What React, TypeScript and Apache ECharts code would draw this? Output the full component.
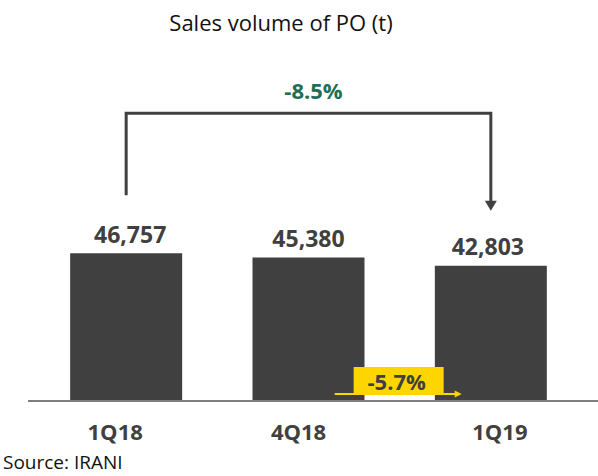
import React, { useEffect, useRef } from "react";
import * as echarts from "echarts";

const categories = ["1Q18", "4Q18", "1Q19"];
const salesVolume = [46757, 45380, 42803];
const totalChangeLabel = "-8.5%";
const qoqChangeLabel = "-5.7%";
const titleText = "Sales volume of PO (t)";
const sourceText = "Source: IRANI";
const labelShift = [-11, -10, 9];

const FONT = "'Open Sans', 'Liberation Sans', sans-serif";
const DARK = "#404040";
const GREEN = "#1f6e56";
const YELLOW = "#ffd500";

export default function App() {
  const ref = useRef<HTMLDivElement>(null);
  useEffect(() => {
    if (!ref.current) return;
    const chart = echarts.init(ref.current, undefined, { renderer: "svg" });
    const rich: Record<string, any> = {};
    categories.forEach((c, i) => {
      const s = labelShift[i];
      rich["c" + i] = {
        fontFamily: FONT,
        fontSize: 22,
        fontWeight: "bold",
        color: DARK,
        padding: s < 0 ? [0, -2 * s, 0, 0] : [0, 0, 0, 2 * s],
      };
    });
    chart.setOption({
      animation: false,
      grid: { left: 35, right: 16, top: 148, bottom: 75 },
      xAxis: {
        type: "category",
        data: categories,
        axisLine: { show: false },
        axisTick: { show: false },
        axisLabel: {
          margin: 19,
          formatter: (v: string) => `{c${categories.indexOf(v)}|${v}}`,
          rich,
        },
      },
      yAxis: { type: "value", min: 0, max: 80000, show: false, splitLine: { show: false } },
      series: [
        {
          type: "bar",
          data: salesVolume.map((v, i) => ({
            value: v,
            label: { offset: [i === 0 ? 4 : i === 2 ? -3 : 0, 0] },
          })),
          barWidth: 112,
          itemStyle: { color: DARK },
          label: {
            show: true,
            position: "top",
            distance: 8,
            fontFamily: FONT,
            fontSize: 23,
            fontWeight: "bold",
            color: DARK,
            formatter: (p: any) => Number(p.value).toLocaleString("en-US"),
          },
        },
      ],
    });

    const px = (i: number, v: number) =>
      chart.convertToPixel({ seriesIndex: 0 }, [i, v]) as number[];
    const base = px(0, 0)[1];
    const p0 = px(0, salesVolume[0]);
    const p1 = px(1, salesVolume[1]);
    const p2 = px(2, salesVolume[2]);
    const topY = p0[1] - 140;
    const tip = p2[1] - 55;
    const mid12 = (p1[0] + p2[0]) / 2;
    const arrowY = base - 7;

    chart.setOption({
      graphic: [
        {
          type: "text",
          x: 281,
          y: 22,
          style: {
            text: titleText,
            fontFamily: FONT,
            fontSize: 22,
            fill: "#111",
            align: "center",
            verticalAlign: "middle",
          },
        },
        {
          type: "text",
          x: 3,
          y: 462,
          style: {
            text: sourceText,
            fontFamily: FONT,
            fontSize: 19,
            fill: "#111",
            align: "left",
            verticalAlign: "middle",
          },
        },
        {
          type: "line",
          z: 10,
          shape: { x1: 28, y1: base, x2: 598, y2: base },
          style: { stroke: "#7f7f7f", lineWidth: 2 },
        },
        {
          type: "polyline",
          shape: {
            points: [
              [p0[0], p0[1] - 58],
              [p0[0], topY],
              [p2[0], topY],
              [p2[0], tip - 9],
            ],
          },
          style: { stroke: DARK, lineWidth: 3, fill: "none" },
        },
        {
          type: "polygon",
          shape: {
            points: [
              [p2[0] - 6, tip - 10],
              [p2[0] + 6, tip - 10],
              [p2[0], tip],
            ],
          },
          style: { fill: DARK },
        },
        {
          type: "text",
          x: (p0[0] + p2[0]) / 2 + 5,
          y: 90,
          style: {
            text: totalChangeLabel,
            fontFamily: FONT,
            fontSize: 22,
            fontWeight: "bold",
            fill: GREEN,
            align: "center",
            verticalAlign: "middle",
          },
        },
        {
          type: "line",
          z: 11,
          shape: { x1: mid12 - 65, y1: arrowY, x2: mid12 + 56, y2: arrowY },
          style: { stroke: YELLOW, lineWidth: 2 },
        },
        {
          type: "polygon",
          z: 11,
          shape: {
            points: [
              [mid12 + 55, arrowY - 3.5],
              [mid12 + 55, arrowY + 3.5],
              [mid12 + 62, arrowY],
            ],
          },
          style: { fill: YELLOW },
        },
        {
          type: "rect",
          z: 11,
          shape: { x: mid12 - 46, y: base - 34, width: 90, height: 28 },
          style: { fill: YELLOW },
        },
        {
          type: "text",
          z: 12,
          x: mid12 - 3,
          y: base - 20,
          style: {
            text: qoqChangeLabel,
            fontFamily: FONT,
            fontSize: 22,
            fontWeight: "bold",
            fill: DARK,
            align: "center",
            verticalAlign: "middle",
          },
        },
      ],
    });

    return () => chart.dispose();
  }, []);
  return (
    <div
      ref={ref}
      style={{ position: "fixed", left: 0, top: 0, width: 598, height: 476, background: "#fff" }}
    />
  );
}
